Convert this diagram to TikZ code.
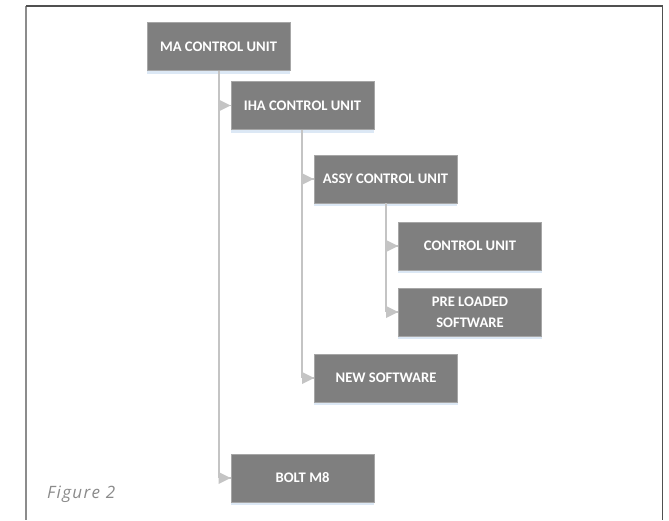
\documentclass[tikz,border=0pt]{standalone}
\usepackage{fontspec}
\setmainfont{Carlito}
\newfontfamily\capfont[LetterSpace=8]{Open Sans}
\usetikzlibrary{arrows.meta}
\definecolor{boxgray}{HTML}{7F7F7F}
\definecolor{boxedge}{HTML}{A6A6A6}
\definecolor{shadowblue}{HTML}{DCE8F5}
\definecolor{linkgray}{HTML}{C4C4C4}
\definecolor{framedark}{HTML}{505050}
\definecolor{frameleft}{HTML}{8C8C8C}
\definecolor{captiongray}{HTML}{8A8A8A}
\begin{document}
\begin{tikzpicture}[x=1pt,y=-1pt,
  unit/.style={draw=boxedge,line width=0.6pt,fill=boxgray,minimum width=143pt,minimum height=48pt,
    text=white,font=\bfseries\fontsize{14.6}{21}\selectfont,align=center,inner sep=0pt,
    append after command={\pgfextra{\fill[shadowblue] (\tikzlastnode.south west) rectangle ([yshift=-3pt]\tikzlastnode.south east);}}},
  link/.style={draw=linkgray,line width=1.6pt},
  tip/.style={fill=linkgray}]
  \useasboundingbox (0,0) rectangle (669,520);
  % frame
  \draw[frameleft,line width=2pt] (26,6) -- (26,520);
  \draw[framedark,line width=1.5pt] (26,6) -- (662.5,6) -- (662.5,520);
  % units
  \node[unit] (ma)   at (218.5,46.5)  {MA CONTROL UNIT};
  \node[unit] (iha)  at (302.5,105.5) {IHA CONTROL UNIT};
  \node[unit] (assy) at (385.5,179)   {ASSY CONTROL UNIT};
  \node[unit] (cu)   at (470,246)     {CONTROL UNIT};
  \node[unit] (pre)  at (470,312)     {PRE LOADED\\SOFTWARE};
  \node[unit] (new)  at (386,378)     {NEW SOFTWARE};
  \node[unit] (bolt) at (302.5,478)   {BOLT M8};
  % tree links
  \coordinate (ma-x)   at (219,0);
  \coordinate (iha-x)  at (302,0);
  \coordinate (assy-x) at (386,0);
  \draw[link] (ma-x |- ma.south) -- (ma-x |- bolt.west);
  \draw[link] (iha-x |- iha.south) -- (iha-x |- new.west);
  \draw[link] (assy-x |- assy.south) -- (assy-x |- pre.west);
  \foreach \p/\c in {ma/iha,ma/bolt,iha/assy,iha/new,assy/cu,assy/pre}{
    \draw[link] (\p-x |- \c.west) -- (\c.west);
    \fill[tip] ([xshift=-12pt,yshift=-6pt]\c.west) -- (\c.west) -- ([xshift=-12pt,yshift=6pt]\c.west) -- cycle;
  }
  % caption
  \node[anchor=base west,text=captiongray,font=\capfont\itshape\fontsize{17}{20}\selectfont,inner sep=0pt] (cap) at (47,498) {Figure 2};
\end{tikzpicture}
\end{document}
